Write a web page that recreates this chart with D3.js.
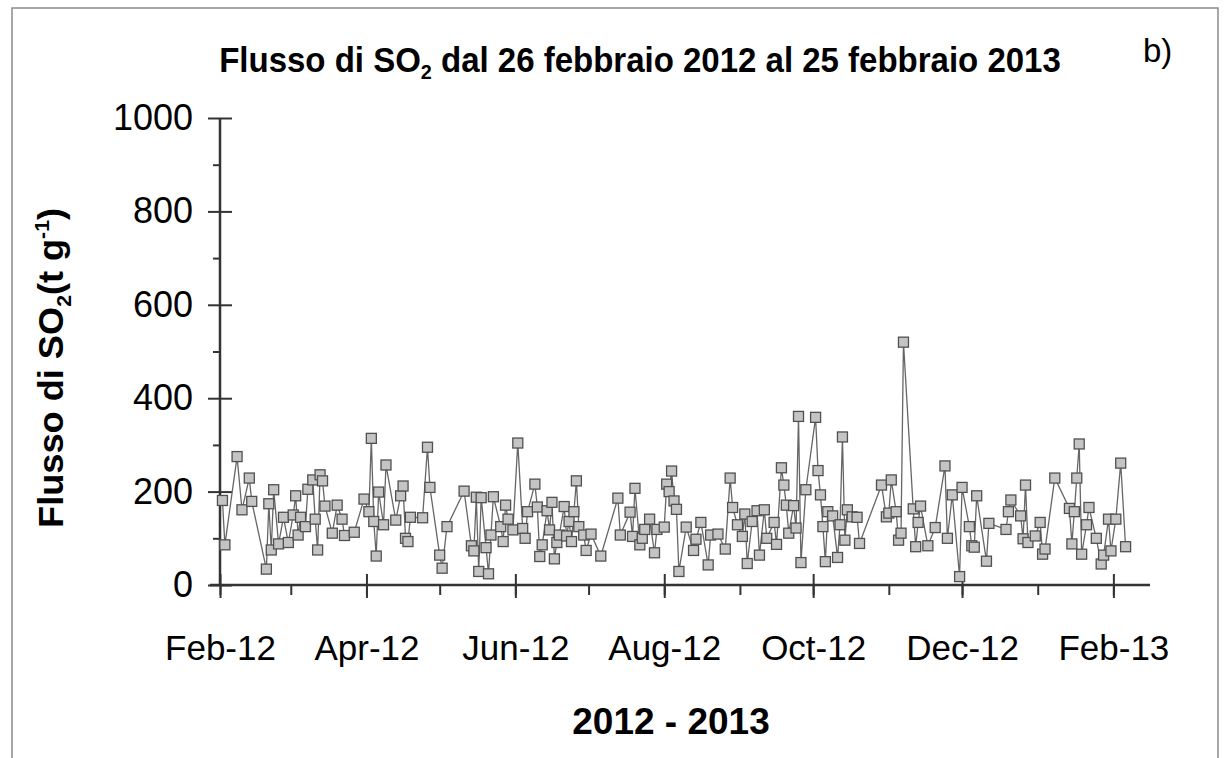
<!DOCTYPE html>
<html>
<head>
<meta charset="utf-8">
<script src="https://cdn.jsdelivr.net/npm/d3@7"></script>
<style>
  body { margin: 0; background: #fff; }
  svg { display: block; }
  text { font-family: "Liberation Sans", Arial, sans-serif; fill: #000; }
</style>
</head>
<body>
<svg id="chart" width="1227" height="758"></svg>
<script>
// Daily SO2 flux measurements (t/day)
const dates = [
  "2012-02-02","2012-02-03","2012-02-08","2012-02-10","2012-02-13","2012-02-14","2012-02-20","2012-02-21","2012-02-22","2012-02-23","2012-02-25","2012-02-27","2012-02-29",
  "2012-03-02","2012-03-03","2012-03-04","2012-03-05","2012-03-07","2012-03-08","2012-03-10","2012-03-11","2012-03-12","2012-03-13","2012-03-14","2012-03-15","2012-03-18","2012-03-20","2012-03-22","2012-03-23","2012-03-27","2012-03-31",
  "2012-04-02","2012-04-03","2012-04-04","2012-04-05","2012-04-06","2012-04-08","2012-04-09","2012-04-13","2012-04-15","2012-04-16","2012-04-17","2012-04-18","2012-04-19","2012-04-24","2012-04-26","2012-04-27",
  "2012-05-01","2012-05-02","2012-05-04","2012-05-11","2012-05-14","2012-05-15","2012-05-16","2012-05-17","2012-05-18","2012-05-20","2012-05-21","2012-05-22","2012-05-23","2012-05-26","2012-05-27","2012-05-28","2012-05-29","2012-05-31",
  "2012-06-02","2012-06-04","2012-06-05","2012-06-06","2012-06-09","2012-06-10","2012-06-11","2012-06-12","2012-06-14","2012-06-15","2012-06-16","2012-06-17","2012-06-18","2012-06-19","2012-06-21","2012-06-22","2012-06-23","2012-06-24","2012-06-25","2012-06-26","2012-06-27","2012-06-29","2012-06-30",
  "2012-07-02","2012-07-06","2012-07-13","2012-07-14","2012-07-18","2012-07-19","2012-07-20","2012-07-22","2012-07-23","2012-07-24","2012-07-26","2012-07-28","2012-07-29",
  "2012-08-01","2012-08-02","2012-08-03","2012-08-04","2012-08-05","2012-08-06","2012-08-07","2012-08-10","2012-08-13","2012-08-14","2012-08-16","2012-08-19","2012-08-20","2012-08-23","2012-08-26","2012-08-28","2012-08-29","2012-08-31",
  "2012-09-02","2012-09-03","2012-09-04","2012-09-06","2012-09-08","2012-09-09","2012-09-11","2012-09-12","2012-09-15","2012-09-16","2012-09-18","2012-09-19","2012-09-20","2012-09-21","2012-09-23","2012-09-24","2012-09-25","2012-09-26","2012-09-28",
  "2012-10-02","2012-10-03","2012-10-04","2012-10-05","2012-10-06","2012-10-07","2012-10-09","2012-10-11","2012-10-12","2012-10-13","2012-10-14","2012-10-15","2012-10-17","2012-10-19","2012-10-20","2012-10-29","2012-10-31",
  "2012-11-01","2012-11-02","2012-11-04","2012-11-05","2012-11-06","2012-11-07","2012-11-11","2012-11-12","2012-11-13","2012-11-14","2012-11-17","2012-11-20","2012-11-24","2012-11-25","2012-11-27","2012-11-30",
  "2012-12-01","2012-12-04","2012-12-05","2012-12-06","2012-12-07","2012-12-11","2012-12-12","2012-12-19","2012-12-20","2012-12-21","2012-12-25","2012-12-26","2012-12-27","2012-12-28","2012-12-31",
  "2013-01-02","2013-01-03","2013-01-04","2013-01-08","2013-01-14","2013-01-15","2013-01-16","2013-01-17","2013-01-18","2013-01-19","2013-01-21","2013-01-22","2013-01-25","2013-01-27","2013-01-28","2013-01-30","2013-01-31",
  "2013-02-02","2013-02-04","2013-02-06"
];

const flux = [
  181,86,275,161,229,179,34,174,75,204,88,145,91,
  150,191,107,145,125,205,225,141,75,236,223,169,111,171,141,106,113,184,
  157,314,136,62,199,129,257,139,191,212,100,93,145,144,295,209,
  64,36,125,201,84,73,188,29,187,80,24,107,189,125,93,171,141,118,
  304,121,100,157,216,167,61,86,159,118,177,56,91,107,168,105,136,93,157,223,125,107,74,
  109,62,186,107,156,104,207,86,100,119,141,69,119,
  124,216,200,244,180,162,29,124,74,98,134,43,107,109,77,229,166,129,
  104,152,46,136,159,64,161,100,134,87,251,214,171,111,170,122,361,48,204,
  359,245,193,125,50,157,148,59,129,317,96,161,146,145,89,214,146,
  154,225,157,96,111,520,163,82,134,169,84,123,255,100,193,18,
  209,125,84,81,191,51,132,119,157,182,148,99,214,91,105,
  134,66,77,229,164,88,157,229,302,66,129,166,100,45,64,141,73,
  141,261,82
];

// Axis ticks
const xTickDates  = ["2012-02-01","2012-04-01","2012-06-01","2012-08-01","2012-10-01","2012-12-01","2013-02-01"];
const xTickLabels = ["Feb-12","Apr-12","Jun-12","Aug-12","Oct-12","Dec-12","Feb-13"];
const yTicks      = [0, 200, 400, 600, 800, 1000];
const yMinorTicks = [100, 300, 500, 700, 900];

const parse = d3.timeParse("%Y-%m-%d");
const series = dates.map((d, i) => ({ date: parse(d), v: flux[i] }));

const svg = d3.select("#chart");

// Outer frame
svg.append("rect")
  .attr("x", 12).attr("y", 8).attr("width", 1206).attr("height", 770)
  .attr("fill", "none").attr("stroke", "#8a8a8a").attr("stroke-width", 1.5);

const x = d3.scaleTime()
  .domain([parse("2012-02-01"), parse("2013-02-16")])
  .range([220, 1150]);
const y = d3.scaleLinear().domain([0, 1000]).range([585, 118]);

const axisColor = "#333";

// X axis: minor monthly ticks
const gxMinor = svg.append("g").attr("transform", "translate(0,585)")
  .call(d3.axisBottom(x)
    .tickValues(d3.timeMonth.range(parse("2012-02-01"), parse("2013-02-02")))
    .tickSize(10).tickFormat(""));
gxMinor.select(".domain").remove();
gxMinor.selectAll(".tick line").attr("stroke", axisColor).attr("stroke-width", 2);

// X axis: major ticks with labels
const majorDates = xTickDates.map(parse);
const gx = svg.append("g").attr("transform", "translate(0,585)")
  .call(d3.axisBottom(x)
    .tickValues(majorDates)
    .tickSize(13).tickPadding(37)
    .tickFormat((d, i) => xTickLabels[i]));
gx.select(".domain").remove();
gx.selectAll(".tick line").attr("y1", -11).attr("stroke", axisColor).attr("stroke-width", 2);
gx.selectAll(".tick text")
  .attr("font-size", 35).attr("font-family", "Liberation Sans, Arial, sans-serif").attr("fill", "#000");

// Y axis: minor ticks
const gyMinor = svg.append("g").attr("transform", "translate(220,0)")
  .call(d3.axisLeft(y).tickValues(yMinorTicks).tickSize(7).tickFormat(""));
gyMinor.select(".domain").remove();
gyMinor.selectAll(".tick line").attr("stroke", axisColor).attr("stroke-width", 2);

// Y axis: major ticks with labels
const gy = svg.append("g").attr("transform", "translate(220,0)")
  .call(d3.axisLeft(y).tickValues(yTicks).tickSize(12).tickPadding(15).tickFormat(d3.format("d")));
gy.select(".domain").remove();
gy.selectAll(".tick line").attr("x1", 12).attr("stroke", axisColor).attr("stroke-width", 2);
gy.selectAll(".tick text")
  .attr("font-size", 36).attr("font-family", "Liberation Sans, Arial, sans-serif").attr("fill", "#000");

// Axis lines
svg.append("line")
  .attr("x1", 210).attr("x2", x.range()[1]).attr("y1", y(0)).attr("y2", y(0))
  .attr("stroke", axisColor).attr("stroke-width", 2.5);
svg.append("line")
  .attr("x1", 220).attr("x2", 220).attr("y1", y(1000)).attr("y2", y(0))
  .attr("stroke", axisColor).attr("stroke-width", 2.5);

// Connecting line
const line = d3.line().x(d => x(d.date)).y(d => y(d.v));
svg.append("path")
  .datum(series)
  .attr("d", line)
  .attr("fill", "none")
  .attr("stroke", "#666")
  .attr("stroke-width", 1.3);

// Square markers
const ms = 10;
svg.append("g").selectAll("rect")
  .data(series)
  .join("rect")
  .attr("x", d => x(d.date) - ms / 2)
  .attr("y", d => y(d.v) - ms / 2)
  .attr("width", ms).attr("height", ms)
  .attr("fill", "#c4c4c4")
  .attr("stroke", "#505050")
  .attr("stroke-width", 1.3);

// Horizontally fit a text element to a target width, keeping its anchor point
function fitWidth(sel, target, tx, ty, rot) {
  const w = sel.node().getComputedTextLength();
  const sx = target / w;
  sel.attr("transform", `translate(${tx},${ty})` + (rot ? ` rotate(${rot})` : "") + ` scale(${sx},1)`);
}

// Title
const title = svg.append("text")
  .attr("text-anchor", "middle")
  .attr("font-size", 35).attr("font-weight", "bold");
title.append("tspan").text("Flusso di SO");
title.append("tspan").attr("font-size", 21).attr("dy", 7).text("2");
title.append("tspan").attr("dy", -7).text(" dal 26 febbraio 2012 al 25 febbraio 2013");
fitWidth(title, 842, 640, 72, 0);

// Panel tag
svg.append("text")
  .attr("x", 1143).attr("y", 62)
  .attr("font-size", 33)
  .text("b)");

// Y-axis title
const ylab = svg.append("text")
  .attr("text-anchor", "middle")
  .attr("font-size", 36).attr("font-weight", "bold");
ylab.append("tspan").text("Flusso di SO");
ylab.append("tspan").attr("font-size", 21).attr("dy", 8).text("2");
ylab.append("tspan").attr("dy", -8).text("(t g");
ylab.append("tspan").attr("font-size", 21).attr("dy", -14).text("-1");
ylab.append("tspan").attr("dy", 14).text(")");
fitWidth(ylab, 320, 63, 368, -90);

// X-axis title
svg.append("text")
  .attr("x", 671).attr("y", 734)
  .attr("text-anchor", "middle")
  .attr("font-size", 37).attr("font-weight", "bold")
  .text("2012 - 2013");
</script>
</body>
</html>
